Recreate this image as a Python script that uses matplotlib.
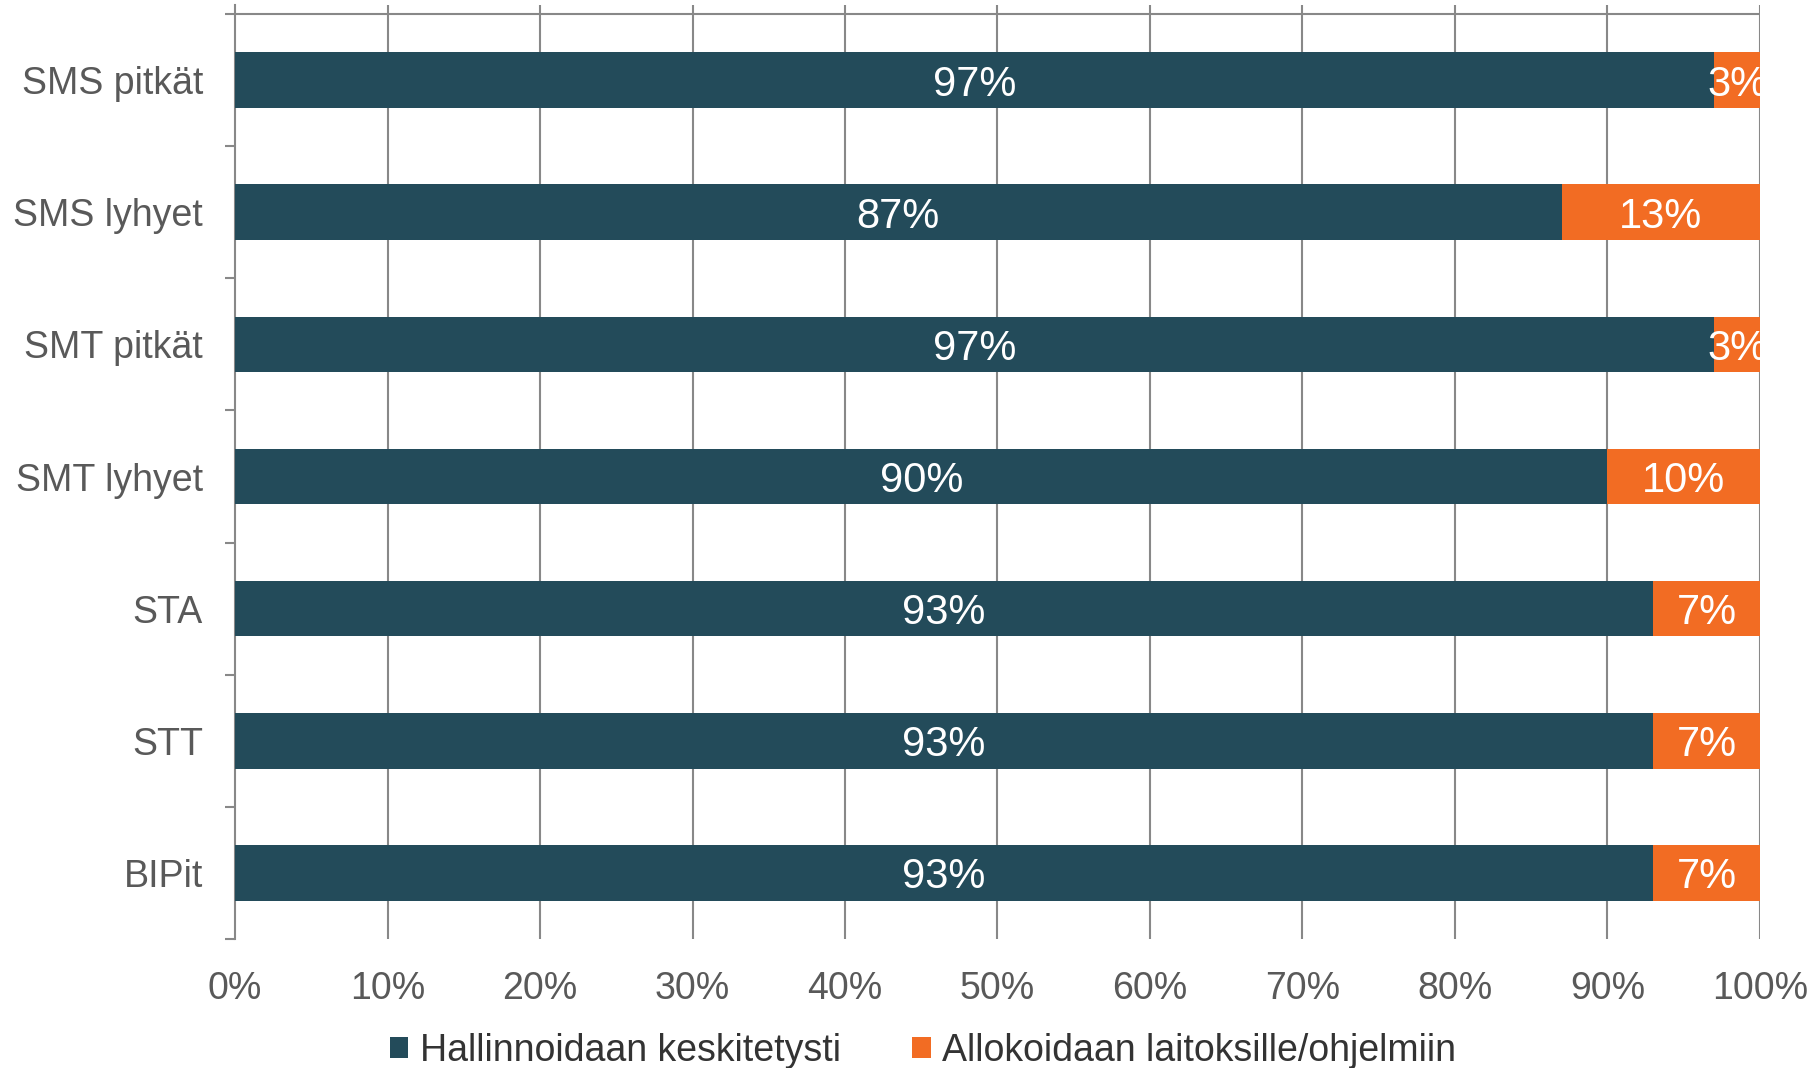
import numpy as np
import matplotlib.pyplot as plt
from matplotlib.patches import Patch

categories = ["SMS pitkät", "SMS lyhyet", "SMT pitkät", "SMT lyhyet", "STA", "STT", "BIPit"]
central = [97, 87, 97, 90, 93, 93, 93]
allocated = [3, 13, 3, 10, 7, 7, 7]
series_names = ["Hallinnoidaan keskitetysti", "Allokoidaan laitoksille/ohjelmiin"]
xticks = [0, 10, 20, 30, 40, 50, 60, 70, 80, 90, 100]

teal = "#234B5A"
orange = "#F26C23"
grid = "#888888"

plt.rcParams['font.family'] = ['Liberation Sans', 'DejaVu Sans']

fig = plt.figure(figsize=(18.13, 10.68), dpi=100)
ax = fig.add_axes([235/1813, 1 - 939/1068, (1760 - 235)/1813, (939 - 5)/1068])

y = np.arange(len(categories))
central = np.array(central)
allocated = np.array(allocated)

ax.barh(y, central, height=0.42, color=teal, zorder=3)
ax.barh(y, allocated, left=central, height=0.42, color=orange, zorder=3)

for i in range(len(categories)):
    ax.text(central[i] / 2, y[i], f"{central[i]}%", ha='center', va='center_baseline',
            color='white', fontsize=30, zorder=4, clip_on=True)
    ax.text(central[i] + allocated[i] / 2, y[i], f"{allocated[i]}%", ha='center',
            va='center_baseline', color='white', fontsize=30, zorder=4, clip_on=True)

ax.set_xlim(0, 100)
ax.set_ylim(len(categories) - 0.5, -0.5 - 9/132)

ax.set_xticks(xticks)
ax.set_xticklabels([f"{t}%" for t in xticks])
ax.set_yticks(y)
ax.set_yticklabels(categories)
ax.set_yticks(np.arange(len(categories) + 1) - 0.5, minor=True)

ax.tick_params(axis='x', length=0, pad=23, labelsize=27, labelcolor='#595959')
ax.tick_params(axis='y', which='major', length=0, pad=23, labelsize=27, labelcolor='#595959')
ax.tick_params(axis='y', which='minor', length=7.5, width=1.5, color=grid, direction='out')

for s in ['top', 'right', 'bottom']:
    ax.spines[s].set_visible(False)
ax.spines['left'].set_color(grid)
ax.spines['left'].set_linewidth(1.5)

for t in xticks[1:]:
    ax.axvline(t, color=grid, linewidth=1.5, zorder=1)
ax.axhline(-0.5, color=grid, linewidth=1.5, zorder=1)

handles = [Patch(facecolor=teal), Patch(facecolor=orange)]
fig.legend(handles, series_names, loc='center', bbox_to_anchor=(0.509, 0.016),
           ncol=2, frameon=False, fontsize=27, handlelength=0.5, handleheight=0.5,
           handletextpad=0.3, columnspacing=1.9, labelcolor='#333333')

fig.savefig("out.png", dpi=100)
